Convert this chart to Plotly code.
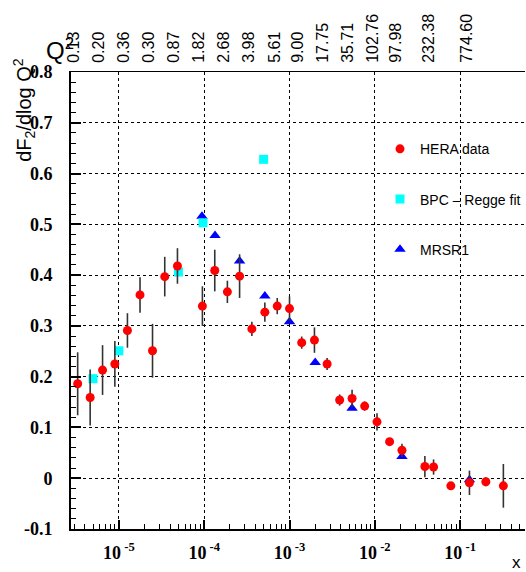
import plotly.graph_objects as go

# ---------------- data ----------------
hera_x = [3.29e-6, 4.61e-6, 6.44e-6, 8.97e-6, 1.26e-5, 1.77e-5, 2.48e-5, 3.45e-5,
          4.86e-5, 9.53e-5, 1.33e-4, 1.87e-4, 2.60e-4, 3.62e-4, 5.14e-4, 7.18e-4,
          1.00e-3, 1.39e-3, 1.96e-3, 2.76e-3, 3.87e-3, 5.41e-3, 7.60e-3, 1.06e-2,
          1.49e-2, 2.08e-2, 3.86e-2, 4.88e-2, 7.78e-2, 0.1285, 0.200, 0.321]
hera_y = [0.186, 0.159, 0.213, 0.225, 0.291, 0.361, 0.251, 0.397,
          0.418, 0.339, 0.409, 0.367, 0.398, 0.294, 0.327, 0.339,
          0.334, 0.267, 0.272, 0.225, 0.154, 0.157, 0.142, 0.111,
          0.072, 0.055, 0.023, 0.022, -0.015, -0.009, -0.007, -0.015]
hera_err = [0.062, 0.055, 0.049, 0.045, 0.034, 0.035, 0.053, 0.039,
            0.035, 0.039, 0.041, 0.022, 0.043, 0.014, 0.019, 0.016,
            0.024, 0.012, 0.025, 0.012, 0.011, 0.017, 0.009, 0.017,
            0.004, 0.013, 0.021, 0.015, 0.004, 0.024, 0.009, 0.043]

bpc_x = [4.97e-6, 1.0e-5, 4.99e-5, 9.68e-5, 4.97e-4]
bpc_y = [0.196, 0.251, 0.406, 0.503, 0.628]

mrsr_x = [9.42e-5, 1.34e-4, 2.60e-4, 5.14e-4, 1.0e-3, 2.0e-3, 5.41e-3, 2.08e-2, 0.1285]
mrsr_y = [0.516, 0.478, 0.428, 0.359, 0.308, 0.228, 0.138, 0.043, -0.003]

q2_pos = [2.98e-6, 5.83e-6, 1.14e-5, 2.24e-5, 4.40e-5, 8.63e-5, 1.69e-4, 3.31e-4,
          6.68e-4, 1.24e-3, 2.43e-3, 4.77e-3, 9.35e-3, 1.78e-2, 4.34e-2, 0.121]
q2_labels = ["0.13", "0.20", "0.36", "0.30", "0.87", "1.82", "2.68", "3.98",
             "5.61", "9.00", "17.75", "35.71", "102.76", "97.98", "232.38", "774.60"]

x_tickvals = [1e-5, 1e-4, 1e-3, 1e-2, 1e-1]
x_ticktext = ["<b>10</b><sup><b> -5</b></sup>", "<b>10</b><sup><b> -4</b></sup>",
              "<b>10</b><sup><b> -3</b></sup>", "<b>10</b><sup><b> -2</b></sup>",
              "<b>10</b><sup><b> -1</b></sup>"]
y_tickvals = [-0.1, 0.0, 0.1, 0.2, 0.3, 0.4, 0.5, 0.6, 0.7, 0.8]
y_ticktext = ["<b>-0.1</b>", "<b>0</b>", "<b>0.1</b>", "<b>0.2</b>", "<b>0.3</b>",
              "<b>0.4</b>", "<b>0.5</b>", "<b>0.6</b>", "<b>0.7</b>", "<b>0.8</b>"]

# ---------------- figure ----------------
X_RANGE = [-5.561, -0.240]
minor_x = [m * 10.0 ** e for e in range(-6, 0) for m in range(2, 10)]

fig = go.Figure()

fig.add_trace(go.Scatter(
    x=mrsr_x, y=mrsr_y, mode="markers", name="MRSR1",
    marker=dict(symbol="triangle-up", size=10, color="#0000ff"),
    legendgroup="c", legendrank=3))
fig.add_trace(go.Scatter(
    x=bpc_x, y=bpc_y, mode="markers", name="BPC – Regge fit",
    marker=dict(symbol="square", size=9, color="#00ffff"),
    legendgroup="b", legendrank=2))
fig.add_trace(go.Scatter(
    x=hera_x, y=hera_y, mode="markers", name="HERA data",
    marker=dict(symbol="circle", size=9, color="#ff0000"),
    error_y=dict(type="data", array=hera_err, visible=True, color="#333333",
                 thickness=1.6, width=0),
    legendgroup="a", legendrank=1))
fig.add_trace(go.Scatter(
    x=[q2_pos[0]], y=[0], xaxis="x2", mode="markers",
    marker=dict(opacity=0), showlegend=False, hoverinfo="skip"))

axis_common = dict(showline=True, linecolor="black", zeroline=False, automargin=False)

fig.update_layout(
    width=526, height=572,
    margin=dict(l=71, r=0, t=72, b=43),
    paper_bgcolor="white", plot_bgcolor="white",
    xaxis=dict(
        type="log", range=X_RANGE, tickmode="array",
        tickvals=x_tickvals, ticktext=x_ticktext,
        ticks="inside", ticklen=9, tickwidth=1.5, tickcolor="black",
        linewidth=2, showgrid=True, gridcolor="black", griddash="dot", gridwidth=1,
        minor=dict(ticks="inside", ticklen=5, tickwidth=1.2, tickcolor="black",
                   tickmode="array", tickvals=minor_x, showgrid=False),
        tickfont=dict(family="Liberation Serif", size=18, color="black"),
        ticklabelstandoff=6, **axis_common),
    xaxis2=dict(
        type="log", range=X_RANGE, overlaying="x", side="top", anchor="y",
        tickmode="array", tickvals=q2_pos, ticktext=q2_labels, tickangle=-90,
        ticks="", showgrid=False, linewidth=1,
        tickfont=dict(family="Liberation Sans", size=16, color="black"),
        ticklabelstandoff=5, **axis_common),
    yaxis=dict(
        range=[-0.1, 0.8], tickmode="array", tickvals=y_tickvals, ticktext=y_ticktext,
        ticks="inside", ticklen=10, tickwidth=1.5, tickcolor="black",
        linewidth=2, showgrid=True, gridcolor="black", griddash="dot", gridwidth=1,
        minor=dict(ticks="inside", ticklen=5, tickwidth=1.2, tickcolor="black",
                   dtick=0.02, showgrid=False),
        tickfont=dict(family="Liberation Serif", size=18, color="black"),
        ticklabelstandoff=13, **axis_common),
    legend=dict(x=0.681, y=0.866, xanchor="left", yanchor="top",
                bgcolor="rgba(0,0,0,0)", tracegroupgap=29, itemwidth=30,
                font=dict(family="Liberation Sans", size=14, color="black")),
    annotations=[
        dict(text="Q<sup>2</sup>", xref="paper", yref="paper", x=-0.024, y=1.05,
             showarrow=False, xanchor="center", yanchor="middle",
             font=dict(family="Liberation Sans", size=24, color="black")),
        dict(text="dF<sub>2</sub>/dlog Q<sup>2</sup>", xref="paper", yref="paper",
             x=-0.104, y=1.035, textangle=-90, showarrow=False,
             xanchor="center", yanchor="top",
             font=dict(family="Liberation Sans", size=20, color="black")),
        dict(text="x", xref="paper", yref="paper", x=0.981, y=-0.074,
             showarrow=False, xanchor="center", yanchor="middle",
             font=dict(family="Liberation Sans", size=17, color="black")),
    ],
)

fig.write_html("out.html",
               config={"displayModeBar": False},
               post_script="document.body.style.margin='0';document.body.style.overflow='hidden';")
